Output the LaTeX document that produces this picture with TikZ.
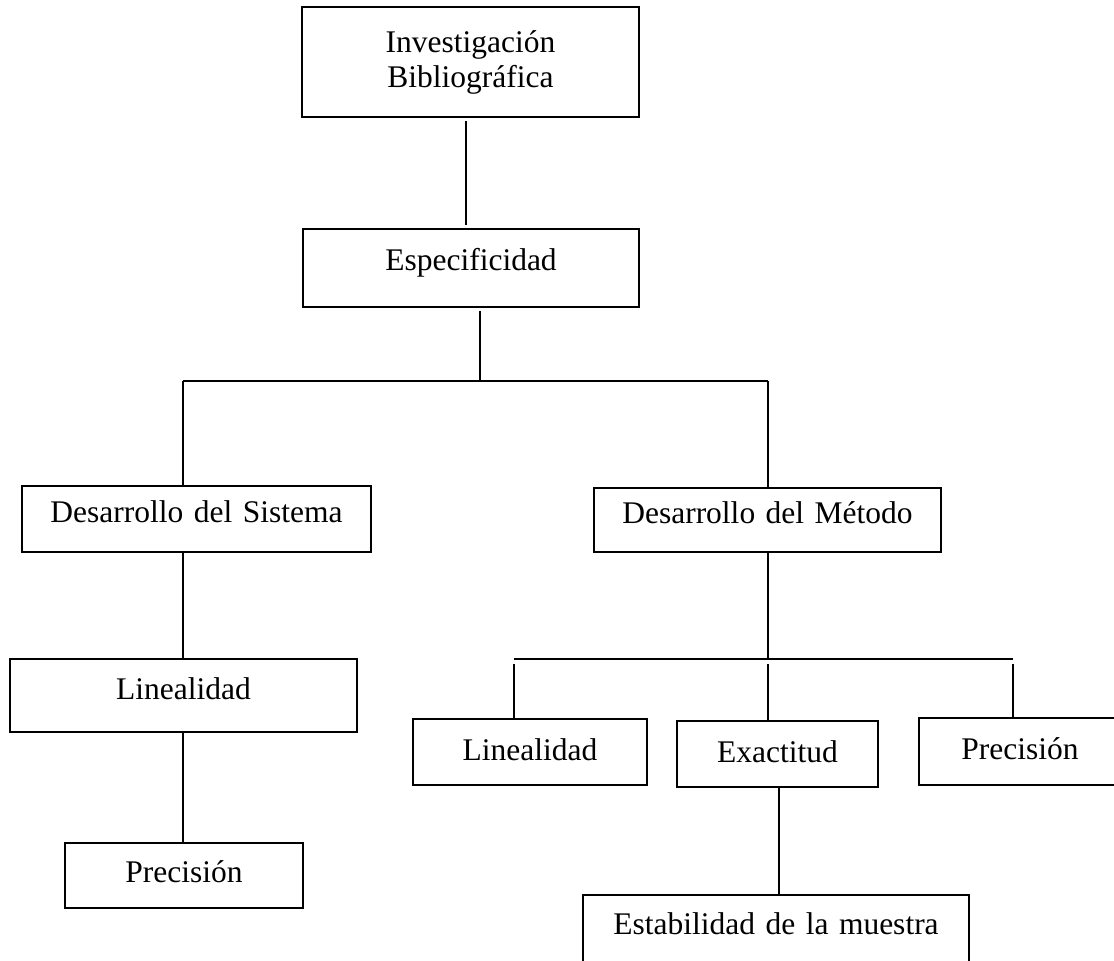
\documentclass[tikz,border=0pt]{standalone}
\usepackage{fontspec}
\setmainfont{Liberation Serif}
\begin{document}
\begin{tikzpicture}[x=1pt,y=-1pt,line width=1.6pt,
  box/.style={draw,inner sep=0pt,align=center,font=\fontsize{31.5}{35}\selectfont},
  link/.style={line width=1.5pt}]
\useasboundingbox (0,0) rectangle (1114,961);
\begin{scope}
\clip (0,0) rectangle (1114,961);
\node[box,minimum width=337pt,minimum height=110pt] (A) at (470.5,62) {Investigación\\Bibliográfica};
\node[box,anchor=base,text width=336pt,text height=41pt,text depth=37pt] (B) at (471,270) {Especificidad};
\node[box,anchor=base,text width=349pt,text height=36pt,text depth=30pt] (C) at (196.5,522) {Desarrollo del Sistema};
\node[box,anchor=base,text width=347pt,text height=35pt,text depth=29pt] (D) at (767.5,523) {Desarrollo del Método};
\node[box,anchor=base,text width=347pt,text height=40pt,text depth=33pt] (E) at (183.5,699) {Linealidad};
\node[box,anchor=base,text width=238pt,text height=39pt,text depth=26pt] (F) at (184,882) {Precisión};
\node[box,anchor=base,text width=234pt,text height=41pt,text depth=25pt] (G) at (530,760) {Linealidad};
\node[box,anchor=base,text width=201pt,text height=41pt,text depth=25pt] (H) at (777.5,762) {Exactitud};
\node[box,anchor=base,text width=202pt,text height=41pt,text depth=26pt] (I) at (1020,759) {Precisión};
\node[box,anchor=base,text width=386pt,text height=39pt,text depth=51pt] (J) at (776,934) {Estabilidad de la muestra};
\end{scope}
\coordinate (b1) at (480,381);
\coordinate (bL) at (183,381);
\coordinate (bR) at (768,381);
\coordinate (m) at (768,659);
\coordinate (m1) at (514,659);
\coordinate (m3) at (1013,659);
\coordinate (m1b) at (514,664);
\coordinate (mb) at (768,664);
\coordinate (m3b) at (1013,664);
\coordinate (hx) at (779,800);
\draw[link] ([xshift=-4.5pt,yshift=-3pt]A.south) -- ([xshift=-5pt,yshift=3pt]B.north);
\draw[link] ([xshift=9pt,yshift=-3pt]B.south) -- (b1);
\draw[link] (bL) -- (bR);
\draw[link] (bL) -- (C.north -| bL);
\draw[link] (bR) -- (D.north -| bR);
\draw[link] (C.south -| bL) -- (E.north -| bL);
\draw[link] (E.south -| bL) -- (F.north -| bL);
\draw[link] (D.south -| m) -- (m);
\draw[link] (m1) -- (m3);
\draw[link] (m1b) -- (G.north -| m1b);
\draw[link] (mb) -- (H.north -| mb);
\draw[link] (m3b) -- (I.north -| m3b);
\draw[link] (H.south -| hx) -- (J.north -| hx);
\end{tikzpicture}
\end{document}
